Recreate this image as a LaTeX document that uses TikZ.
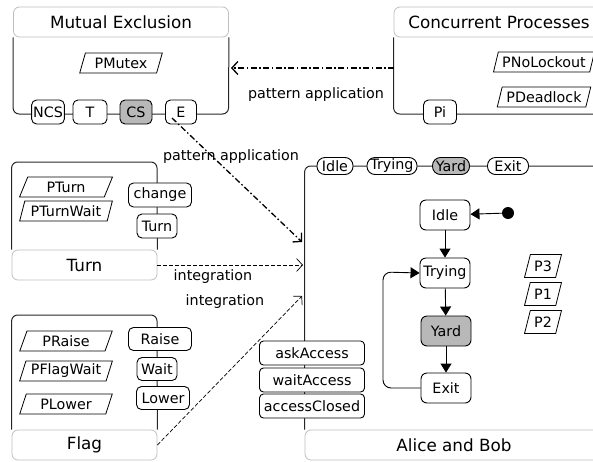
\documentclass[tikz,border=0pt]{standalone}
\usepackage{fontspec}
\setmainfont{DejaVu Sans}
\usetikzlibrary{shapes.geometric,arrows.meta}

\begin{document}
\begin{tikzpicture}[x=1pt,y=-1pt]
\tikzstyle{every node}+=[font=\fontsize{14.3}{16}\selectfont]
\tikzstyle{title}=[draw=black!25,line width=0.8pt,rounded corners=6pt,minimum height=30pt,inner sep=0pt,font=\fontsize{16.8}{19}\selectfont]
\tikzstyle{body}=[black!85,line width=1pt,rounded corners=6pt]
\tikzstyle{port}=[draw,line width=0.9pt,fill=white,rounded corners=5pt,inner xsep=1.5pt,inner ysep=0pt,minimum height=24pt]
\tikzstyle{pill}=[draw,line width=0.9pt,fill=white,rounded corners=8pt,inner xsep=1.5pt,inner ysep=0pt,minimum height=17pt]
\tikzstyle{prop}=[draw,line width=0.8pt,trapezium,trapezium left angle=68,trapezium right angle=112,trapezium stretches=true,inner xsep=0.5pt,inner ysep=0pt,minimum height=20pt]
\tikzstyle{state}=[draw,line width=0.9pt,rounded corners=6pt,minimum width=50pt,minimum height=30pt,inner sep=0pt]
\tikzstyle{active}=[fill=black!28]
\tikzstyle{pattern}=[line width=1.3pt,dash pattern=on 6pt off 2.5pt on 1.5pt off 2.5pt,-{Straight Barb[length=6pt,width=13pt]}]
\tikzstyle{integ}=[line width=0.7pt,dash pattern=on 4pt off 2pt,-{Straight Barb[length=6pt,width=13pt]}]
\tikzstyle{trans}=[line width=0.9pt,-{Triangle[length=9pt,width=11pt]}]
\tikzstyle{lbl}=[inner sep=0pt]
\useasboundingbox (0,0) rectangle (593,461);

% Mutual Exclusion
\node[title,minimum width=215pt] (mutex) at (121,22) {Mutual Exclusion};
\draw[body] (mutex.south west) |- (228.5,114) -- (mutex.south east);
\node[prop,minimum width=83pt] (pmutex) at (121,63) {PMutex};
\node[port,minimum width=31pt] (ncs) at (48,112) {NCS};
\node[port,minimum width=34pt] (t) at (90,112) {T};
\node[port,active,minimum width=32pt] (cs) at (136,112) {CS};
\node[port,minimum width=31pt] (e) at (181,112) {E};

% Concurrent Processes
\node[title,minimum width=210pt] (conc) at (499,22) {Concurrent Processes};
\draw[body] (conc.south west) |- (600,114);
\node[port,minimum width=33pt] (pi) at (440,112) {Pi};
\node[prop,minimum width=102pt] (pnolock) at (544,62) {PNoLockout};
\node[prop,minimum width=94pt] (pdead) at (544,97) {PDeadlock};

% Turn
\node[title,minimum width=145pt] (turn) at (84.5,265) {Turn};
\draw[body] (turn.north west) |- (157,162) -- (turn.north east);
\node[prop,minimum width=93pt] (pturn) at (66,187) {PTurn};
\node[prop,minimum width=93pt] (pturnwait) at (66,211) {PTurnWait};
\node[port,minimum width=63pt] (change) at (160,195) {change};
\node[port,minimum width=40pt] (turnop) at (157,226) {Turn};

% Flag
\node[title,minimum width=145pt] (flag) at (84.5,445) {Flag};
\draw[body] (flag.north west) |- (157,315) -- (flag.north east);
\node[prop,minimum width=93pt] (praise) at (66,341) {PRaise};
\node[prop,minimum width=93pt] (pflagwait) at (66,371) {PFlagWait};
\node[prop,minimum width=93pt] (plower) at (66,404) {PLower};
\node[port,minimum width=63pt,minimum height=23pt] (raise) at (160,339) {Raise};
\node[port,minimum width=40pt,minimum height=23pt] (wait) at (157,369) {Wait};
\node[port,minimum width=53pt,minimum height=23pt] (lower) at (163,398) {Lower};

% Alice and Bob
\node[title,minimum width=298pt] (ab) at (454,445) {Alice and Bob};
\draw[body] (ab.north west) |- (600,166);
\node[pill,minimum width=36pt] (idle) at (335,166) {Idle};
\node[pill,minimum width=50pt] (trying) at (392,166) {Trying};
\node[pill,active,minimum width=37pt] (yard) at (451,166) {Yard};
\node[pill,minimum width=41pt] (exit) at (508,166) {Exit};
\node[port,minimum width=105pt,rounded corners=4pt] (ask) at (312,353) {askAccess};
\node[port,minimum width=105pt,rounded corners=4pt] (waitacc) at (312,380) {waitAccess};
\node[port,minimum width=105pt,rounded corners=4pt] (closed) at (312,406) {accessClosed};

\node[state] (sidle) at (445,215) {Idle};
\node[state] (strying) at (445,273) {Trying};
\node[state,active] (syard) at (446,331) {Yard};
\node[state] (sexit) at (446,388) {Exit};
\node[circle,fill,inner sep=0pt,minimum size=12pt] (init) at (508,213) {};
\draw[trans] (init) -- (sidle);
\draw[trans] (sidle) -- (strying);
\draw[trans] (strying) -- (syard);
\draw[trans] (syard) -- (sexit);
\draw[trans,rounded corners=8pt] (sexit.west) -- (383,388) -- (383,272) -- (strying.west);

\node[prop,minimum width=37pt,minimum height=23pt] (p3) at (543,266) {P3};
\node[prop,minimum width=37pt,minimum height=23pt] (p1) at (543,294) {P1};
\node[prop,minimum width=37pt,minimum height=23pt] (p2) at (543,322) {P2};

% relations
\coordinate (concin) at (394,68);
\coordinate (mutexin) at (231,68);
\coordinate (abin1) at (302,242);
\coordinate (abin2) at (303,265);
\coordinate (abin3) at (302,296);
\draw[pattern] (concin) -- (mutexin);
\node[lbl] (lpat1) at (316,95) {pattern application};
\draw[pattern] (172,118) -- (abin1);
\node[lbl] (lpat2) at (231,157) {pattern application};
\draw[integ] (turn.east) -- (abin2);
\node[lbl] (lint1) at (213,277) {integration};
\draw[integ] (flag.east) -- (abin3);
\node[lbl] (lint2) at (225,302) {integration};
\end{tikzpicture}
\end{document}
